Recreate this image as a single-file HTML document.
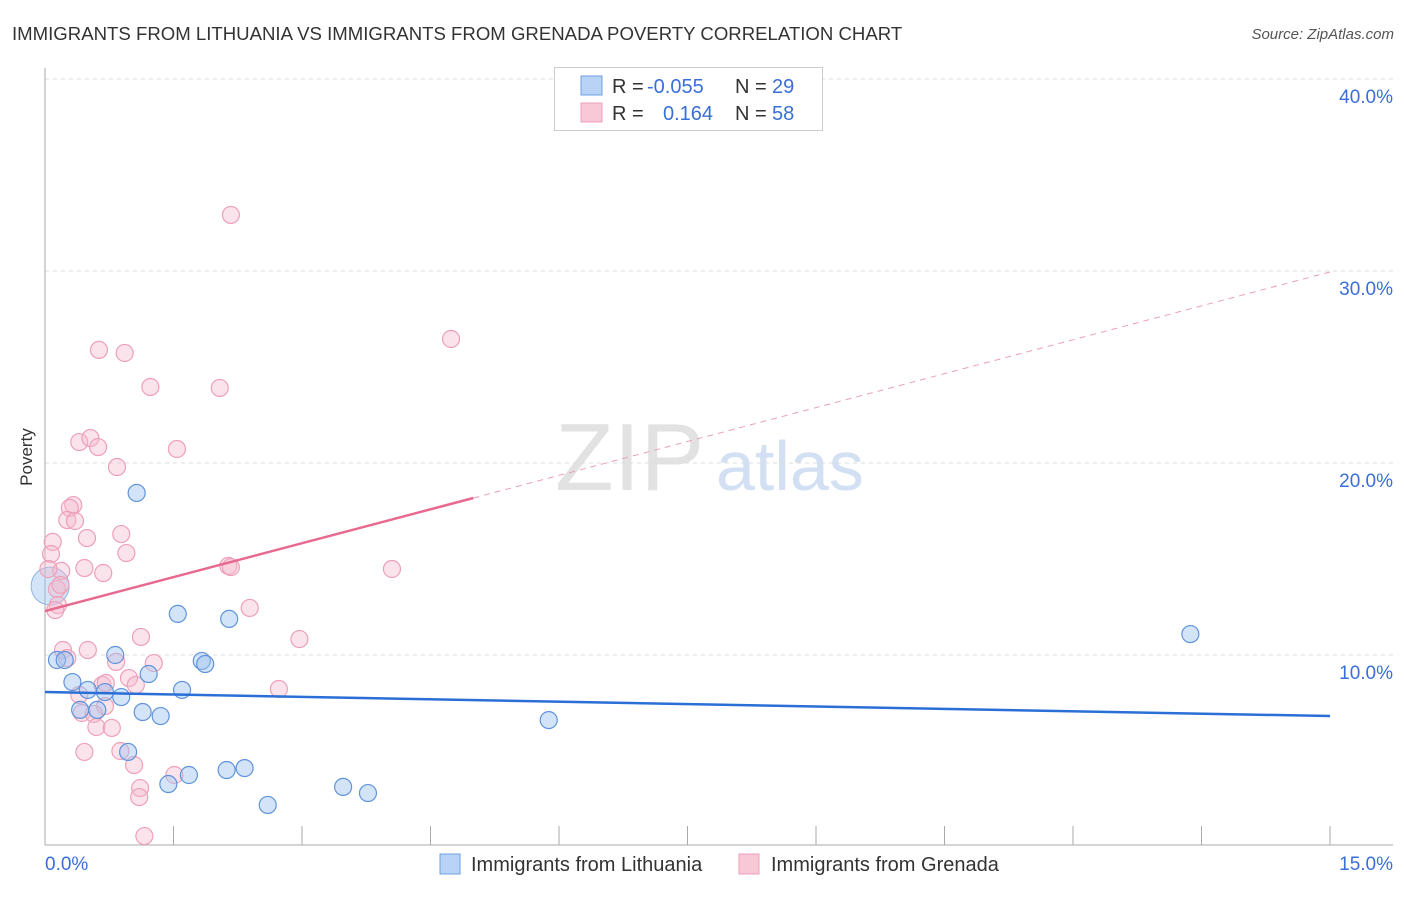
<!DOCTYPE html>
<html><head><meta charset="utf-8"><style>
body{margin:0;background:#fff;font-family:"Liberation Sans",sans-serif;}
svg text{font-family:"Liberation Sans",sans-serif;}
</style></head><body>
<svg id="c" width="1406" height="892" xmlns="http://www.w3.org/2000/svg">
<text x="12" y="40" font-size="18.6" fill="#333">IMMIGRANTS FROM LITHUANIA VS IMMIGRANTS FROM GRENADA POVERTY CORRELATION CHART</text>
<text x="1394" y="39" font-size="15" fill="#555" font-style="italic" text-anchor="end">Source: ZipAtlas.com</text>
<text x="32" y="457" font-size="17" fill="#333" transform="rotate(-90 32 457)" text-anchor="middle">Poverty</text>
<text x="555" y="490" font-size="96" fill="#e2e2e2" font-family="Liberation Serif">ZIP</text>
<text x="716" y="490" font-size="70" fill="#d3e0f3">atlas</text>
<g id="grid"></g><g id="axes"></g><g id="pts"></g><g id="trend"></g>
<g>
<rect x="554.5" y="67.5" width="268" height="63" fill="#fff" stroke="#ccc"/>
<rect x="581" y="76" width="21" height="19" fill="#b8d3f5" stroke="#6fa0e0"/>
<rect x="581" y="103" width="21" height="19" fill="#f9c8d6" stroke="#eea0b8"/>
<text y="93" font-size="20" fill="#333"><tspan x="612">R = </tspan><tspan x="647" fill="#3a6fd8">-0.055</tspan><tspan x="735">N = </tspan><tspan x="772" fill="#3a6fd8">29</tspan></text>
<text y="120" font-size="20" fill="#333"><tspan x="612">R = </tspan><tspan x="663" fill="#3a6fd8">0.164</tspan><tspan x="735">N = </tspan><tspan x="772" fill="#3a6fd8">58</tspan></text>
</g>
<g>
<rect x="440" y="854" width="20" height="20" fill="#b8d3f5" stroke="#6fa0e0"/>
<text x="471" y="871" font-size="20" fill="#333">Immigrants from Lithuania</text>
<rect x="739" y="854" width="20" height="20" fill="#f9c8d6" stroke="#eea0b8"/>
<text x="771" y="871" font-size="20" fill="#333">Immigrants from Grenada</text>
</g>
</svg>
<script>
const yTicks=[10,20,30,40];
const xTickCount=10;
const blueX=[0.14,0.23,0.32,0.41,0.50,0.61,0.70,0.82,0.89,0.97,1.07,1.14,1.21,1.35,1.44,1.55,1.60,1.68,1.83,1.87,2.12,2.15,2.33,2.60,3.48,3.77,5.88,13.37];
const blueY=[9.74,9.74,8.59,7.14,8.18,7.14,8.07,10.0,7.81,4.95,18.44,7.03,9.01,6.82,3.28,12.14,8.18,3.75,9.69,9.53,4.01,11.88,4.11,2.19,3.13,2.81,6.61,11.09];
const pinkX=[2.17,4.74,0.63,0.93,1.23,2.04,0.40,0.53,0.62,1.54,0.84,0.33,0.29,0.26,0.35,0.49,0.89,0.09,0.07,0.95,0.46,0.68,0.19,0.04,2.14,2.17,4.05,0.14,0.15,0.12,2.39,1.12,2.97,0.21,0.50,0.26,0.83,1.27,0.98,1.06,0.67,0.71,0.40,2.73,0.43,0.70,0.57,0.60,0.78,0.46,0.88,1.04,1.51,1.11,1.10,1.16,0.18];
const pinkY=[32.92,26.46,25.89,25.73,23.96,23.91,21.09,21.30,20.83,20.73,19.79,17.81,17.66,17.03,16.98,16.09,16.30,15.89,15.26,15.31,14.53,14.27,14.38,14.48,14.64,14.58,14.48,13.44,12.60,12.34,12.45,10.94,10.83,10.26,10.26,9.84,9.64,9.58,8.80,8.44,8.44,8.54,7.92,8.23,6.98,7.34,6.93,6.25,6.20,4.95,5.00,4.27,3.75,3.07,2.60,0.57,13.65];
const blueTrend=[8.07,6.82];
const pinkTrend=[12.29,29.95];
const pinkSolidEnd=5.0;
const X=v=>45+v/15*1285, Y=v=>847-v*19.2;
const NS="http://www.w3.org/2000/svg";
function mk(t,a,p){const e=document.createElementNS(NS,t);for(const k in a)e.setAttribute(k,a[k]);document.getElementById(p).appendChild(e);return e;}
yTicks.forEach(t=>{
 const l=mk('line',{x1:45,x2:1393,y1:Y(t),y2:Y(t),stroke:'#ddd','stroke-dasharray':'4,4'},'grid');
 
 
 const tx=mk('text',{x:1393,y:Y(t)+24,'font-size':19,fill:'#3a6fd8','text-anchor':'end'},'grid');
 tx.textContent=t.toFixed(1)+'%';
 
 
});
mk('line',{x1:45,x2:45,y1:68,y2:845,stroke:'#aaa'},'axes');
mk('line',{x1:45,x2:1393,y1:845,y2:845,stroke:'#aaa'},'axes');
for(let i=0;i<=xTickCount;i++){const t=mk('line',{x1:X(i*1.5),x2:X(i*1.5),y1:826,y2:845,stroke:'#aaa'},'axes');
 
 }
let a=mk('text',{x:45,y:870,'font-size':19,fill:'#3a6fd8'},'axes');a.textContent='0.0%';


a=mk('text',{x:1393,y:870,'font-size':19,fill:'#3a6fd8','text-anchor':'end'},'axes');a.textContent='15.0%';


const big=mk('circle',{cx:X(0.06),cy:Y(13.59),r:19,fill:'rgba(160,195,240,0.45)',stroke:'#8fb4e6'},'pts');


pinkX.forEach((x,i)=>{const c=mk('circle',{cx:X(x),cy:Y(pinkY[i]),r:8.5,fill:'rgba(246,185,205,0.4)',stroke:'#eea0b8','stroke-width':1.2},'pts');
 
 });
blueX.forEach((x,i)=>{const c=mk('circle',{cx:X(x),cy:Y(blueY[i]),r:8.5,fill:'rgba(160,195,240,0.45)',stroke:'#5f94dc','stroke-width':1.2},'pts');
 
 });
let t=mk('line',{x1:X(0),x2:X(15),y1:Y(blueTrend[0]),y2:Y(blueTrend[1]),stroke:'#2a6fd6','stroke-width':2.5},'trend');


const py=x=>pinkTrend[0]+(pinkTrend[1]-pinkTrend[0])*x/15;
t=mk('line',{x1:X(0),x2:X(pinkSolidEnd),y1:Y(py(0)),y2:Y(py(pinkSolidEnd)),stroke:'#e8698f','stroke-width':2.5},'trend');


t=mk('line',{x1:X(pinkSolidEnd),x2:X(15),y1:Y(py(pinkSolidEnd)),y2:Y(py(15)),stroke:'#eaa0b8','stroke-width':1,'stroke-dasharray':'6,5'},'trend');


</script>
</body></html>
